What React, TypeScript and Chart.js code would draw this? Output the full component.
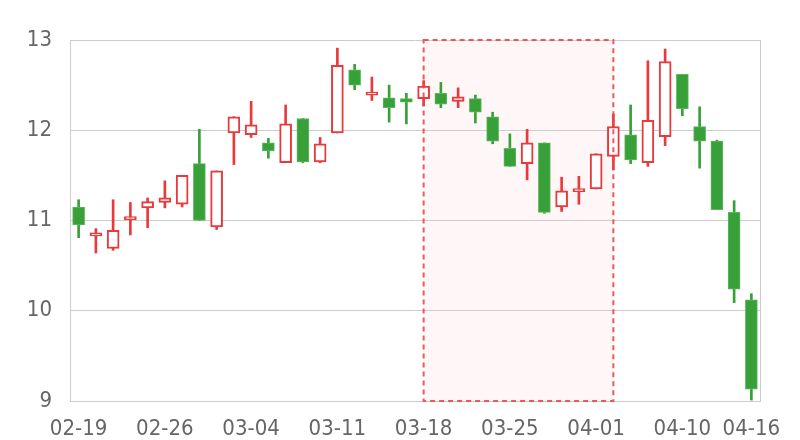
import React, { useEffect, useRef } from "react";
import { Chart, registerables } from "chart.js";

Chart.register(...registerables);

const dates = [
  "02-19", "02-20", "02-21", "02-22", "02-23", "02-26", "02-27", "02-28", "02-29", "03-01",
  "03-04", "03-05", "03-06", "03-07", "03-08", "03-11", "03-12", "03-13", "03-14", "03-15",
  "03-18", "03-19", "03-20", "03-21", "03-22", "03-25", "03-26", "03-27", "03-28", "03-29",
  "04-01", "04-02", "04-03", "04-08", "04-09", "04-10", "04-11", "04-12", "04-15", "04-16",
];

const opens = [
  11.15, 10.83, 10.69, 11.01, 11.14, 11.2, 11.18, 11.63, 10.93, 11.97,
  11.95, 11.86, 11.64, 12.13, 11.65, 11.97, 12.67, 12.39, 12.36, 12.35,
  12.35, 12.41, 12.32, 12.35, 12.15, 11.8, 11.63, 11.86, 11.15, 11.32,
  11.35, 11.71, 11.95, 11.64, 11.93, 12.62, 12.04, 11.88, 11.09, 10.12,
];
const closes = [
  10.95, 10.85, 10.89, 11.02, 11.21, 11.25, 11.5, 11.0, 11.55, 12.15,
  12.06, 11.77, 12.07, 11.65, 11.85, 12.72, 12.5, 12.42, 12.25, 12.31,
  12.49, 12.29, 12.37, 12.2, 11.88, 11.6, 11.86, 11.09, 11.33, 11.33,
  11.74, 12.04, 11.67, 12.11, 12.76, 12.24, 11.88, 11.12, 10.24, 9.13,
];
const lows = [
  10.81, 10.64, 10.67, 10.84, 10.92, 11.14, 11.15, 11.0, 10.9, 11.62,
  11.92, 11.69, 11.64, 11.64, 11.64, 11.97, 12.45, 12.33, 12.09, 12.07,
  12.27, 12.25, 12.25, 12.08, 11.85, 11.6, 11.45, 11.08, 11.1, 11.18,
  11.35, 11.56, 11.63, 11.6, 11.83, 12.16, 11.58, 11.12, 10.09, 9.01,
];
const highs = [
  11.23, 10.91, 11.23, 11.2, 11.25, 11.44, 11.5, 12.01, 11.55, 12.15,
  12.32, 11.91, 12.28, 12.13, 11.92, 12.91, 12.73, 12.59, 12.5, 12.41,
  12.55, 12.53, 12.47, 12.39, 12.2, 11.96, 12.01, 11.86, 11.48, 11.49,
  11.74, 12.18, 12.28, 12.77, 12.9, 12.62, 12.26, 11.89, 11.22, 10.19,
];

const markStart = "03-18";
const markEnd = "04-02";

const RED = "#e8393c";
const GREEN = "#38a038";
const GREEN_BORDER = "#5db85d";
const FONT = { family: "'DejaVu Sans Condensed', 'DejaVu Sans', sans-serif", size: 22 };

export default function App() {
  const ref = useRef<HTMLCanvasElement | null>(null);

  useEffect(() => {
    if (!ref.current) return;
    const up = opens.map((o, i) => closes[i] >= o);

    const markPlugin = {
      id: "markArea",
      beforeDatasetsDraw(chart: any) {
        const { ctx, chartArea, scales } = chart;
        const x1 = scales.x.getPixelForValue(dates.indexOf(markStart));
        const x2 = scales.x.getPixelForValue(dates.indexOf(markEnd));
        ctx.save();
        ctx.fillStyle = "rgba(255, 200, 200, 0.15)";
        ctx.fillRect(x1, chartArea.top, x2 - x1, chartArea.bottom - chartArea.top);
        ctx.restore();
      },
      afterDatasetsDraw(chart: any) {
        const { ctx, chartArea, scales } = chart;
        const x1 = scales.x.getPixelForValue(dates.indexOf(markStart));
        const x2 = scales.x.getPixelForValue(dates.indexOf(markEnd));
        ctx.save();
        ctx.strokeStyle = "rgba(238, 70, 72, 0.9)";
        ctx.lineWidth = 2;
        ctx.setLineDash([5, 4]);
        ctx.strokeRect(x1, chartArea.top, x2 - x1, chartArea.bottom - chartArea.top);
        ctx.restore();
      },
    };

    const boxPlugin = {
      id: "box",
      afterDraw(chart: any) {
        const { ctx, chartArea } = chart;
        ctx.save();
        ctx.strokeStyle = "#cccccc";
        ctx.lineWidth = 1;
        ctx.beginPath();
        ctx.moveTo(Math.round(chartArea.right) + 0.5, chartArea.top);
        ctx.lineTo(Math.round(chartArea.right) + 0.5, chartArea.bottom);
        ctx.stroke();
        ctx.restore();
      },
    };

    const chart = new Chart(ref.current, {
      type: "bar",
      data: {
        labels: dates,
        datasets: [
          {
            label: "body",
            data: opens.map((o, i) => [o, closes[i]]) as any,
            backgroundColor: up.map((u) => (u ? "#ffffff" : GREEN)),
            borderColor: up.map((u) => (u ? RED : GREEN_BORDER)),
            borderWidth: up.map((u) => (u ? 2 : 1)) as any,
            borderSkipped: false,
            barThickness: 12,
            minBarLength: 3,
            grouped: false,
            order: 0,
          },
          {
            label: "wick",
            data: lows.map((l, i) => [l, highs[i]]) as any,
            backgroundColor: up.map((u) => (u ? RED : GREEN)),
            borderWidth: 0,
            barThickness: 2,
            grouped: false,
            order: 1,
          },
        ],
      },
      options: {
        animation: false,
        responsive: true,
        maintainAspectRatio: false,
        layout: { padding: { top: 40, right: 40, left: 0, bottom: 0 } },
        plugins: { legend: { display: false }, tooltip: { enabled: false } },
        scales: {
          x: {
            type: "category",
            offset: true,
            grid: { display: false, drawTicks: false },
            border: { display: true, color: "#cccccc" },
            afterFit(scale: any) {
              scale.height = 39;
            },
            ticks: {
              autoSkip: false,
              maxRotation: 0,
              minRotation: 0,
              padding: 15,
              color: "#666666",
              font: FONT,
              callback: (_v: any, i: number) =>
                i % 5 === 0 || i === dates.length - 1 ? dates[i] : "",
            },
          },
          y: {
            min: 9,
            max: 13,
            grid: { color: "#cccccc", drawTicks: false },
            border: { display: true, color: "#cccccc" },
            afterFit(scale: any) {
              scale.width = 70;
            },
            ticks: {
              stepSize: 1,
              padding: 18,
              color: "#666666",
              font: FONT,
            },
          },
        },
      },
      plugins: [markPlugin, boxPlugin],
    });
    return () => chart.destroy();
  }, []);

  return (
    <div style={{ position: "absolute", left: 0, top: 0, width: 800, height: 440 }}>
      <canvas ref={ref} />
    </div>
  );
}
